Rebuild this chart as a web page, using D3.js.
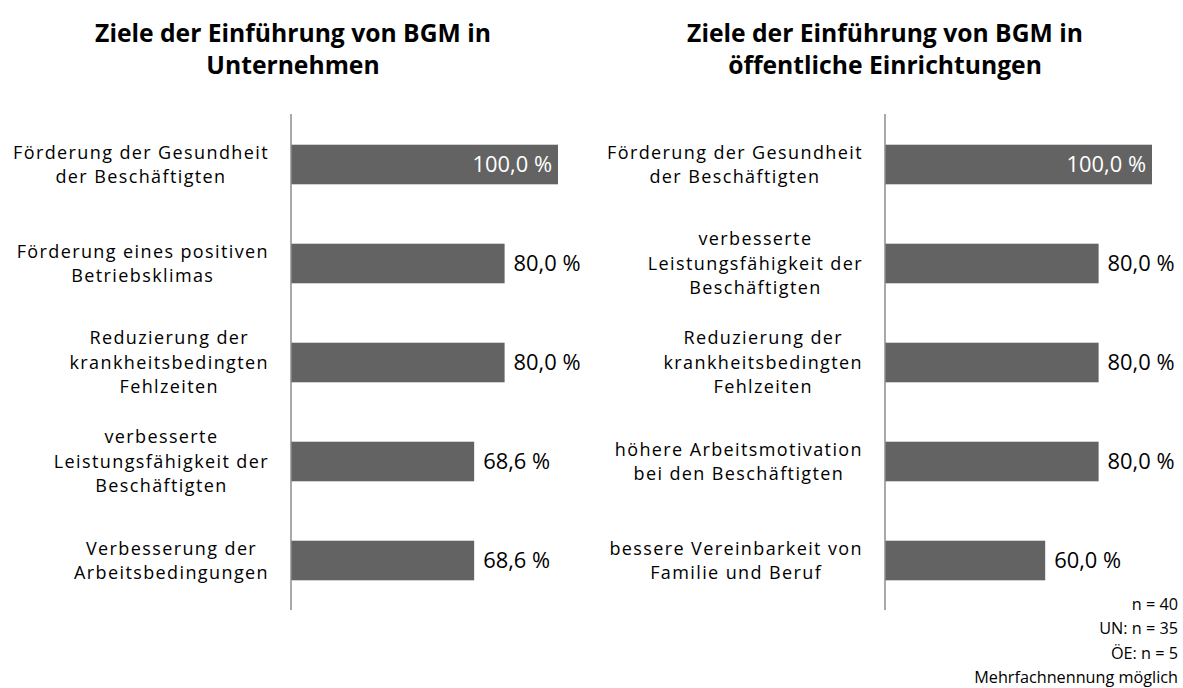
<!DOCTYPE html>
<html><head><meta charset="utf-8">
<script src="https://cdn.jsdelivr.net/npm/d3@7"></script>
<style>body{margin:0;background:#fff}svg{display:block}text{font-family:"Open Sans",Lato,sans-serif}</style>
</head><body><svg id="c" width="1183" height="688"></svg>
<script>
const leftTitle = ["Ziele der Einführung von BGM in", "Unternehmen"];
const leftCategories = [
  ["Förderung der Gesundheit", "der Beschäftigten"],
  ["Förderung eines positiven", "Betriebsklimas"],
  ["Reduzierung der", "krankheitsbedingten", "Fehlzeiten"],
  ["verbesserte", "Leistungsfähigkeit der", "Beschäftigten"],
  ["Verbesserung der", "Arbeitsbedingungen"]
];
const leftValues = [100.0, 80.0, 80.0, 68.6, 68.6];

const rightTitle = ["Ziele der Einführung von BGM in", "öffentliche Einrichtungen"];
const rightCategories = [
  ["Förderung der Gesundheit", "der Beschäftigten"],
  ["verbesserte", "Leistungsfähigkeit der", "Beschäftigten"],
  ["Reduzierung der", "krankheitsbedingten", "Fehlzeiten"],
  ["höhere Arbeitsmotivation", "bei den Beschäftigten"],
  ["bessere Vereinbarkeit von", "Familie und Beruf"]
];
const rightValues = [100.0, 80.0, 80.0, 80.0, 60.0];

const footnotes = ["n = 40", "UN: n = 35", "ÖE: n = 5", "Mehrfachnennung möglich"];

const svg = d3.select("#c");
const fmt = v => d3.format(".1f")(v).replace(".", ",") + " %";

function measure(sample, size, weight) {
  const t = svg.append("text").attr("font-size", size).attr("font-weight", weight || "normal").text(sample);
  const w = t.node().getComputedTextLength();
  t.remove();
  return w;
}
const titleSize = 100 * 396 / measure("Ziele der Einführung von BGM in", 100, "bold");
const labelSize = 18;
const labelSample = "Förderung der Gesundheit";
const labelSpacing = (256 - measure(labelSample, labelSize)) / labelSample.length;
const valueSize = 100 * 67 / measure("80,0 %", 100);
const noteSize = 100 * 204 / measure("Mehrfachnennung möglich", 100);

function panel(cfg) {
  const {axisX, titleX, title, cats, vals} = cfg;
  const g = svg.append("g");
  g.append("text").attr("x", titleX).attr("y", 42)
    .attr("text-anchor", "middle").attr("font-size", titleSize).attr("font-weight", "bold").attr("fill", "#000")
    .selectAll("tspan").data(title).join("tspan")
    .attr("x", titleX).attr("dy", (d, i) => i === 0 ? 0 : 32).text(d => d);

  const x = d3.scaleLinear().domain([0, 100]).range([axisX, axisX + 267]);
  const y = d3.scaleBand().domain(d3.range(cats.length)).range([115, 610]).paddingInner(0.6).paddingOuter(0.3);

  g.selectAll("rect.bar").data(vals).join("rect").attr("class", "bar")
    .attr("x", x(0)).attr("y", (d, i) => y(i)).attr("width", d => x(d) - x(0)).attr("height", y.bandwidth())
    .attr("fill", "#636363");

  g.append("line").attr("x1", axisX).attr("x2", axisX).attr("y1", 114).attr("y2", 610)
    .attr("stroke", "#8c8c8c").attr("stroke-width", 1.5);

  g.selectAll("text.val").data(vals).join("text").attr("class", "val")
    .attr("x", d => d >= 100 ? x(d) - 6 : x(d) + 9)
    .attr("y", (d, i) => y(i) + y.bandwidth() / 2)
    .attr("dy", "0.35em")
    .attr("text-anchor", d => d >= 100 ? "end" : "start")
    .attr("fill", d => d >= 100 ? "#fff" : "#000")
    .attr("font-size", valueSize).text(fmt);

  cats.forEach((lines, i) => {
    const cy = y(i) + y.bandwidth() / 2;
    const lh = 24.5;
    const t = g.append("text").attr("font-size", labelSize).attr("letter-spacing", labelSpacing)
      .attr("fill", "#000").attr("text-anchor", "middle");
    lines.forEach((ln, j) => {
      t.append("tspan").attr("y", cy + (j - (lines.length - 1) / 2) * lh).attr("dy", "0.35em").text(ln);
    });
    let w = 0;
    t.selectAll("tspan").each(function() { w = Math.max(w, this.getComputedTextLength()); });
    const cx = axisX - 22 - w / 2;
    t.selectAll("tspan").attr("x", cx);
  });
}

panel({axisX: 291, titleX: 293, title: leftTitle, cats: leftCategories, vals: leftValues});
panel({axisX: 885, titleX: 885, title: rightTitle, cats: rightCategories, vals: rightValues});

svg.append("g").selectAll("text").data(footnotes).join("text")
  .attr("x", 1178).attr("y", (d, i) => 610 + i * 24.3)
  .attr("text-anchor", "end").attr("font-size", noteSize).attr("fill", "#000").text(d => d);
</script></body></html>
